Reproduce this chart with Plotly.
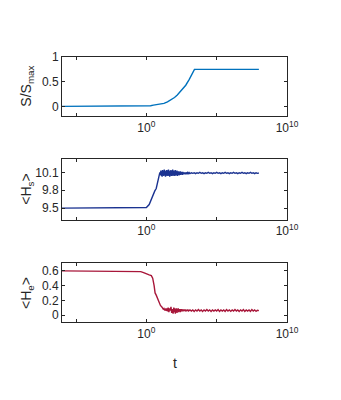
import plotly.graph_objects as go

# ---------------- data ----------------
# top panel: S/S_max vs log10(t)
s_exp = [-6, -1, 0, 0.3, 0.5, 0.8, 1.0, 1.25, 1.5, 1.75, 2.0, 2.2, 2.5, 2.8, 3.05, 3.26, 3.42, 3.5, 8.0]
s_val = [0, 0, 0.002, 0.012, 0.025, 0.04, 0.045, 0.06, 0.09, 0.13, 0.18, 0.23, 0.32, 0.43, 0.55, 0.67, 0.75, 0.752, 0.752]

# middle panel: <H_s>
hs_exp = [-6, -1, -0.3, 0.0, 0.2, 0.4, 0.5, 0.6, 0.7, 0.78, 0.85, 0.92, 0.96,
          1.00, 1.03, 1.06, 1.09, 1.12, 1.15, 1.18, 1.21, 1.24, 1.27, 1.30, 1.33, 1.36, 1.39,
          1.42, 1.45, 1.48, 1.51, 1.54, 1.57, 1.60, 1.63, 1.66, 1.69, 1.72, 1.75, 1.78, 1.81,
          1.84, 1.87, 1.90, 1.93, 1.96, 1.99, 2.02, 2.05, 2.08, 2.11, 2.14, 2.17, 2.20, 2.23,
          2.26, 2.29, 2.32, 2.35, 2.38, 2.41, 2.44, 2.47, 2.50, 2.53, 2.56, 2.59, 2.62, 2.65,
          2.68, 2.71, 2.74, 2.77, 2.80, 2.85, 2.90, 2.95, 3.00, 3.05, 3.10,
          3.2, 3.3, 3.4, 3.5, 3.6, 3.7, 3.8, 3.9, 4.0, 4.1, 4.2, 4.3, 4.4, 4.5, 4.6, 4.7, 4.8,
          4.9, 5.0, 5.1, 5.2, 5.3, 5.4, 5.5, 5.6, 5.7, 5.8, 5.9, 6.0, 6.1, 6.2, 6.3, 6.4, 6.5,
          6.6, 6.7, 6.8, 6.9, 7.0, 7.1, 7.2, 7.3, 7.4, 7.5, 7.6, 7.7, 7.8, 7.9, 8.0]
hs_val = [9.5, 9.5, 9.5, 9.51, 9.56, 9.68, 9.76, 9.79, 9.83, 9.91, 9.97, 10.04, 10.1,
          10.06, 10.13, 10.04, 10.12, 10.03, 10.14, 10.05, 10.12, 10.04, 10.15, 10.06, 10.13, 10.03, 10.12,
          10.05, 10.14, 10.04, 10.13, 10.05, 10.15, 10.04, 10.12, 10.03, 10.13, 10.05, 10.14, 10.04, 10.12,
          10.05, 10.15, 10.04, 10.13, 10.06, 10.12, 10.04, 10.14, 10.05, 10.12, 10.06, 10.13, 10.04, 10.12,
          10.06, 10.12, 10.05, 10.11, 10.06, 10.12, 10.06, 10.11, 10.07, 10.11, 10.06, 10.11, 10.07, 10.10,
          10.07, 10.10, 10.08, 10.10, 10.07, 10.10, 10.08, 10.10, 10.08, 10.095, 10.08,
          10.095, 10.085, 10.095, 10.08, 10.095, 10.085, 10.1, 10.085, 10.095, 10.08, 10.095, 10.085, 10.1, 10.085, 10.095, 10.08, 10.095,
          10.085, 10.1, 10.085, 10.095, 10.08, 10.095, 10.085, 10.1, 10.085, 10.095, 10.08, 10.095, 10.085, 10.1, 10.085, 10.095, 10.08,
          10.095, 10.085, 10.1, 10.085, 10.095, 10.08, 10.095, 10.085, 10.1, 10.085, 10.095, 10.08, 10.095, 10.085, 10.09]

# bottom panel: <H_e>
he_exp = [-6, -1, -0.6, -0.4, -0.2, 0.0, 0.2, 0.35, 0.45, 0.55, 0.62, 0.7, 0.8, 0.9, 1.0, 1.1, 1.15,
          1.20, 1.25, 1.30, 1.35, 1.40, 1.45, 1.50, 1.55, 1.60, 1.65, 1.70, 1.75, 1.80, 1.85, 1.90, 1.95,
          2.00, 2.03, 2.06, 2.09, 2.12, 2.15, 2.18, 2.21, 2.24, 2.27, 2.30, 2.33, 2.36, 2.39, 2.42, 2.45,
          2.48, 2.51, 2.54, 2.57, 2.60, 2.65, 2.70, 2.75, 2.80, 2.85, 2.90, 2.95, 3.00,
          3.1, 3.2, 3.3, 3.4, 3.5, 3.6, 3.7, 3.8, 3.9, 4.0, 4.1, 4.2, 4.3, 4.4, 4.5, 4.6, 4.7, 4.8,
          4.9, 5.0, 5.1, 5.2, 5.3, 5.4, 5.5, 5.6, 5.7, 5.8, 5.9, 6.0, 6.1, 6.2, 6.3, 6.4, 6.5,
          6.6, 6.7, 6.8, 6.9, 7.0, 7.1, 7.2, 7.3, 7.4, 7.5, 7.6, 7.7, 7.8, 7.9, 8.0]
he_val = [0.6, 0.6, 0.598, 0.59, 0.575, 0.555, 0.545, 0.535, 0.5, 0.4, 0.3, 0.27, 0.22, 0.16, 0.13, 0.11, 0.1,
          0.08, 0.09, 0.07, 0.08, 0.06, 0.09, 0.05, 0.10, 0.04, 0.09, 0.06, 0.11, 0.03, 0.08, 0.02, 0.10,
          0.04, 0.09, 0.02, 0.08, 0.04, 0.09, 0.03, 0.08, 0.05, 0.09, 0.04, 0.08, 0.05, 0.08, 0.04, 0.08,
          0.05, 0.08, 0.05, 0.075, 0.05, 0.075, 0.055, 0.075, 0.05, 0.07, 0.055, 0.075, 0.055,
          0.07, 0.055, 0.07, 0.05, 0.07, 0.055, 0.075, 0.055, 0.07, 0.05, 0.07, 0.055, 0.075, 0.055, 0.07, 0.05, 0.07, 0.055,
          0.07, 0.055, 0.075, 0.05, 0.07, 0.055, 0.07, 0.05, 0.075, 0.055, 0.07, 0.05, 0.07, 0.055, 0.075, 0.055, 0.07,
          0.05, 0.07, 0.055, 0.075, 0.05, 0.07, 0.055, 0.07, 0.05, 0.075, 0.055, 0.07, 0.05, 0.065, 0.06]

x_tickvals = [1e-5, 1e0, 1e5, 1e10]
x_ticktext = ["", "10<sup>0</sup>", "", "10<sup>10</sup>"]

# ---------------- figure ----------------
AX = "#262626"
FONT = "Liberation Sans, Arial, sans-serif"
OFF = 8  # default page body margin
W, H = 341 - OFF, 400 - OFF


def py(p):
    return 1 - (p - OFF) / H


fig = go.Figure()
series = [
    (s_exp, s_val, "#0072BD", "x", "y"),
    (hs_exp, hs_val, "#1B3391", "x2", "y2"),
    (he_exp, he_val, "#A8173A", "x3", "y3"),
]
for ex, val, col, xa, ya in series:
    fig.add_trace(go.Scatter(x=[10 ** e for e in ex], y=val, mode="lines",
                             line=dict(color=col, width=1.4), xaxis=xa, yaxis=ya,
                             showlegend=False))

domains = [(py(111), py(51)), (py(216.7), py(155)), (py(321), py(261))]
yranges = [[-0.2, 1.0], [9.3, 10.32], [-0.1, 0.7]]
yticks = [[0, 0.5, 1], [9.5, 9.8, 10.1], [0, 0.2, 0.4, 0.6]]
yticktext = [["0", "0.5", "1"], ["9.5", "9.8", "10.1"], ["0", "0.2", "0.4", "0.6"]]

common = dict(showline=True, linecolor=AX, linewidth=1, mirror="ticks", ticks="inside",
              ticklen=3, tickcolor=AX, showgrid=False, zeroline=False,
              tickfont=dict(family=FONT, size=12, color=AX))
layout = dict(width=W, height=H, margin=dict(l=62 - OFF, r=W - (287 - OFF), t=0, b=0),
              paper_bgcolor="white", plot_bgcolor="white", font=dict(family=FONT, color=AX))
for i in range(3):
    sx = "" if i == 0 else str(i + 1)
    layout["xaxis" + sx] = dict(type="log", range=[-6, 10], domain=[0, 1],
                                anchor="y" + sx, tickvals=x_tickvals, ticktext=x_ticktext,
                                **common)
    layout["yaxis" + sx] = dict(range=yranges[i], domain=list(domains[i]), anchor="x" + sx,
                                tickvals=yticks[i], ticktext=yticktext[i], **common)
fig.update_layout(**layout)

titles = ["S/S<sub>max</sub>", "&lt;H<sub>s</sub>&gt;", "&lt;H<sub>e</sub>&gt;"]
for i, t in enumerate(titles):
    fig.add_annotation(text=t, xref="paper", yref="paper", x=0, xshift=-35,
                       y=(domains[i][0] + domains[i][1]) / 2, textangle=-90,
                       showarrow=False, xanchor="center", yanchor="middle",
                       font=dict(family=FONT, size=14, color=AX))
fig.add_annotation(text="t", xref="paper", yref="paper", x=0.5, y=py(362),
                   showarrow=False, xanchor="center", yanchor="middle",
                   font=dict(family=FONT, size=14, color=AX))

fig.write_html("out.html")
